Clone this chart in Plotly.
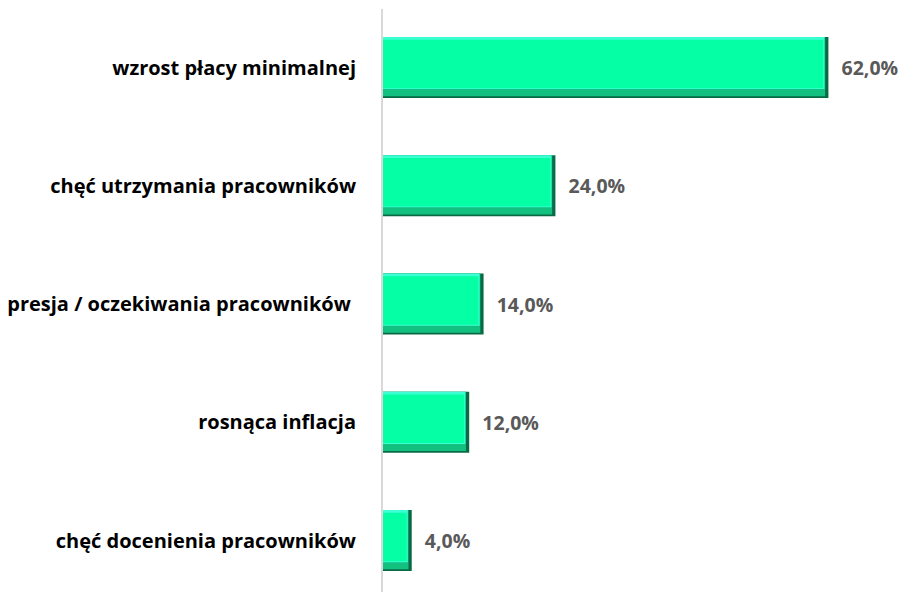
import plotly.graph_objects as go

categories = [
    "wzrost płacy minimalnej",
    "chęć utrzymania pracowników",
    "presja / oczekiwania pracowników ",
    "rosnąca inflacja",
    "chęć docenienia pracowników",
]
values = [62.0, 24.0, 14.0, 12.0, 4.0]
labels = ["62,0%", "24,0%", "14,0%", "12,0%", "4,0%"]

_MAIN = "#05ffa5"
_TOP = "#3cffd4"
_MID = "#12c080"
_DARK = "#0a6a45"
_LABEL = "#595959"
_FONT = "'Open Sans', Lato, sans-serif"

fig = go.Figure()

# bevel look: dark base, mid band, top highlight, bright face on top
fig.add_trace(go.Bar(
    y=categories, x=values, orientation="h",
    width=0.515, offset=-0.2575,
    marker=dict(color=_DARK, line=dict(width=0)),
    text=["  " + s for s in labels], textposition="outside",
    textfont=dict(family=_FONT, size=19.5, color=_LABEL, weight="bold"),
    cliponaxis=False, hoverinfo="skip", showlegend=False,
))
fig.add_trace(go.Bar(
    y=categories, x=[v - 0.45 for v in values], orientation="h",
    width=0.5, offset=-0.2575,
    marker=dict(color=_MID, line=dict(width=0)),
    hoverinfo="skip", showlegend=False,
))
fig.add_trace(go.Bar(
    y=categories, x=[v - 0.55 for v in values], orientation="h",
    width=0.44, offset=-0.2575,
    marker=dict(color=_TOP, line=dict(width=0)),
    hoverinfo="skip", showlegend=False,
))
fig.add_trace(go.Bar(
    y=categories, x=[v - 0.7 for v in values], orientation="h",
    width=0.41, offset=-0.235,
    marker=dict(color=_MAIN, line=dict(width=0)),
    hoverinfo="skip", showlegend=False,
))

# page body adds an 8px offset, so the figure is sized to the remaining area
fig.update_layout(
    width=898, height=584,
    margin=dict(l=375, r=0, t=1, b=0),
    barmode="overlay",
    plot_bgcolor="white", paper_bgcolor="white",
    font=dict(family=_FONT),
)
fig.update_xaxes(range=[0, 72.8], visible=False)
fig.update_yaxes(
    range=[4.435, -0.495],
    showline=True, linecolor="#d9d9d9", linewidth=2,
    showgrid=False, ticks="", ticklabelstandoff=21,
    tickfont=dict(family=_FONT, size=20, color="black", weight="bold"),
)

fig.write_html("out.html")
